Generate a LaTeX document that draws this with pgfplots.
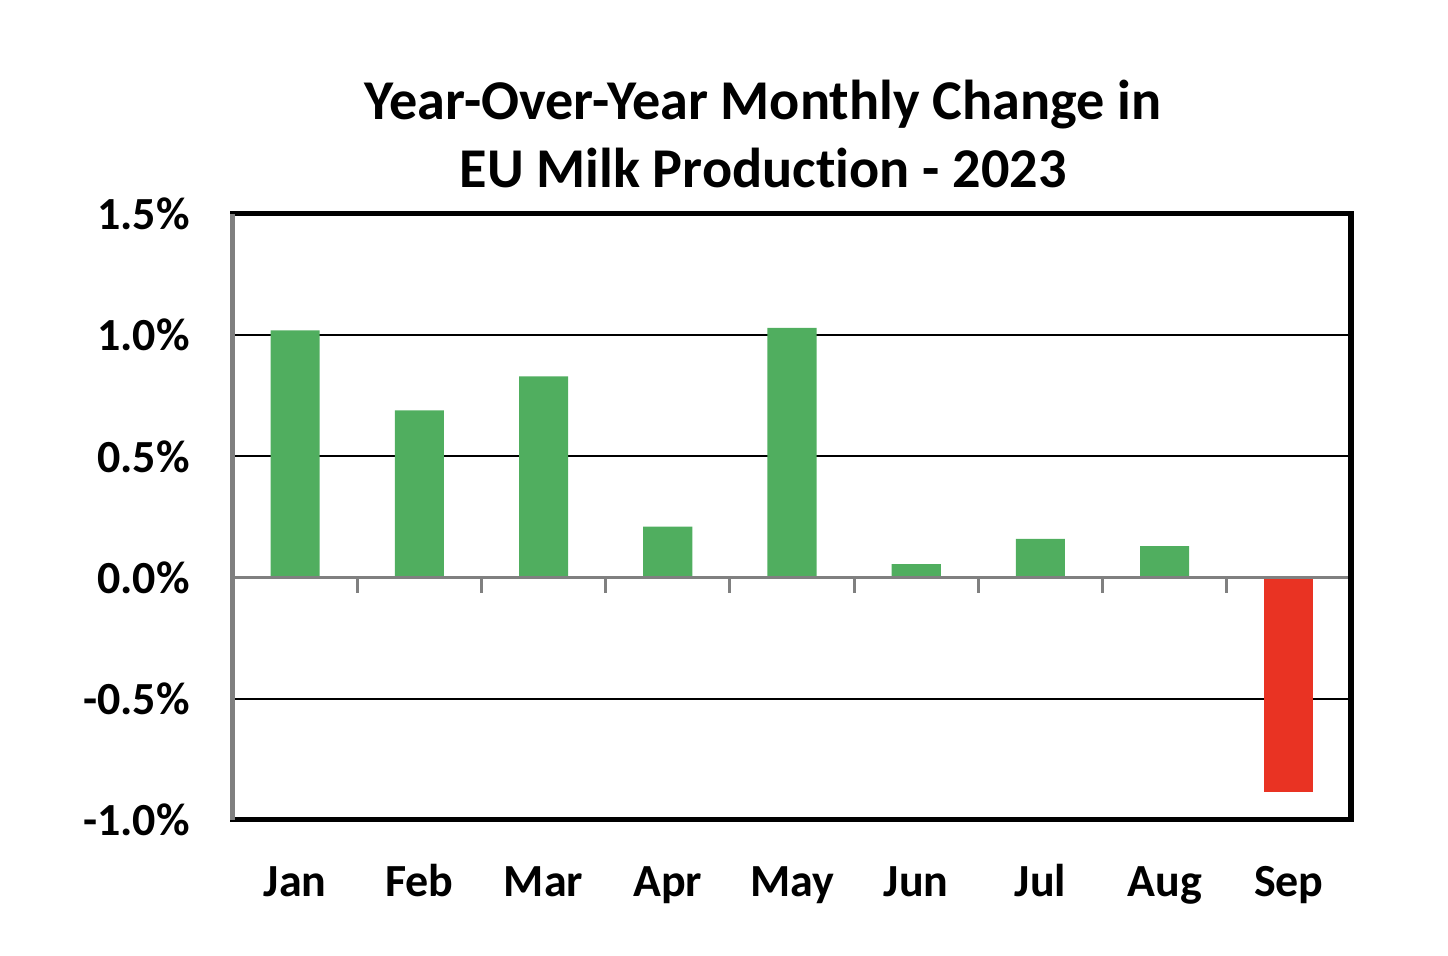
\documentclass[border=0pt]{standalone}
\usepackage{fontspec}
\setmainfont{Carlito}[Ligatures=NoCommon]
\usepackage{pgfplots}
\pgfplotsset{compat=1.18}
\definecolor{barGreen}{HTML}{50AE5F}
\definecolor{barRed}{HTML}{E93323}
\definecolor{axisGray}{HTML}{808080}
\begin{document}
\begin{tikzpicture}
\begin{axis}[
  scale only axis, width=559pt, height=303pt,
  xmin=-0.5, xmax=8.5, ymin=-1, ymax=1.5,
  axis line style={draw=none},
  ytick={-1,-0.5,0,0.5,1,1.5},
  yticklabels={-1.0\%,-0.5\%,0.0\%,0.5\%,1.0\%,1.5\%},
  ymajorgrids, grid style={black, line width=1.1pt},
  xtick={0,...,8},
  xticklabels={Jan,Feb,Mar,Apr,May,Jun,Jul,Aug,Sep},
  major tick length=0pt,
  tick label style={font=\fontsize{23}{27}\selectfont\bfseries, inner sep=0pt},
  yticklabel style={anchor=east, xshift=-21.5pt},
  xticklabel style={anchor=base, yshift=-38.5pt},
  clip=false,
]
% values in percent
\addplot[ybar, bar shift=0pt, bar width=0.395, fill=barGreen, draw=none]
  coordinates {(0,1.02)(1,0.69)(2,0.83)(3,0.21)(4,1.03)(5,0.056)(6,0.16)(7,0.13)};
\addplot[ybar, bar shift=0pt, bar width=0.395, fill=barRed, draw=none]
  coordinates {(8,-0.885)};

% zero line with category ticks
\draw[axisGray, line width=1.5pt] (axis cs:-0.5,0) -- (axis cs:8.5,0);
\pgfplotsinvokeforeach{0.5,1.5,2.5,3.5,4.5,5.5,6.5,7.5,8.5}{
  \draw[axisGray, line width=1.5pt] (axis cs:#1,0) -- ([yshift=-7.5pt]axis cs:#1,0);
}

% frame
\draw[black, line width=2.5pt, line cap=rect]
  (rel axis cs:0,1) -- (rel axis cs:1,1) -- (rel axis cs:1,0) -- (rel axis cs:0,0);
\draw[axisGray, line width=2.5pt] (rel axis cs:0,0) -- (rel axis cs:0,1);

\path (rel axis cs:0,1) coordinate (tl) (rel axis cs:0,0) coordinate (bl);
\end{axis}
% title
\node[anchor=base, font=\fontsize{28.1}{34}\selectfont\bfseries]
  at ([shift={(265pt,47pt)}]tl) {Year-Over-Year Monthly Change in};
\node[anchor=base, font=\fontsize{28.1}{34}\selectfont\bfseries]
  at ([shift={(265pt,13pt)}]tl) {EU Milk Production - 2023};
% page size
\path ([shift={(-116.5pt,-68pt)}]bl) rectangle ++(724pt,478pt);
\end{tikzpicture}
\end{document}
